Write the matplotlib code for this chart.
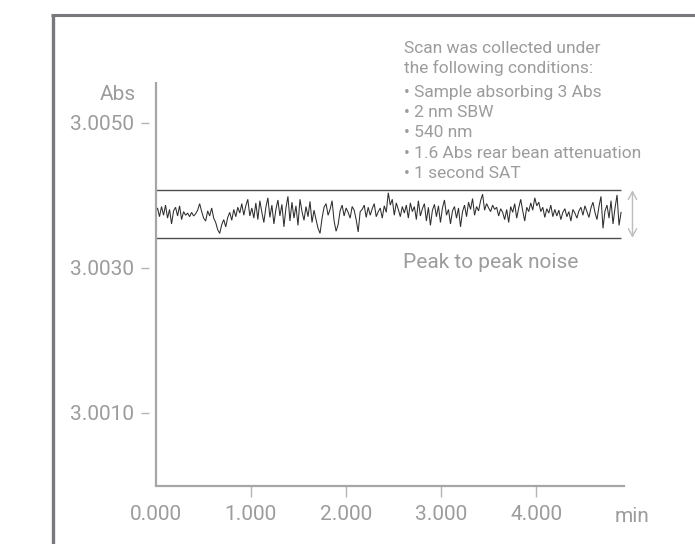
import matplotlib
matplotlib.use("Agg")
import matplotlib.pyplot as plt
from matplotlib.lines import Line2D
import numpy as np

plt.rcParams['font.family'] = ['Roboto', 'DejaVu Sans']

# ---- data -------------------------------------------------------------
x_ticks = [0.0, 1.0, 2.0, 3.0, 4.0]
x_tick_labels = ["0.000", "1.000", "2.000", "3.000", "4.000"]
y_ticks = [3.0010, 3.0030, 3.0050]
y_tick_labels = ["3.0010", "3.0030", "3.0050"]

scan_start_min = 0.0
scan_end_min = 4.89
baseline_abs = 3.003743           # mean absorbance of the scan
noise_upper_abs = 3.004067        # peak-to-peak envelope, top
noise_lower_abs = 3.003413        # peak-to-peak envelope, bottom

# absorbance deviations, units of 1e-5 Abs
noise_dev_e5 = [
    2, 8, -4, 10, -2, 12, -6, 6, -14, 4, 9, -3, 11, -8, 3, -2, 1, -4, 2, -3, 0, 5, 14, 3, -6,
    -10, 4, -3, 8, -6, -12, -22, -27, -15, -8, -18, -5, 2, -9, 6, -4, 9, 1, 14, -2, 11, 20, -3, 8, -6,
    15, -8, 18, 2, -12, 9, 22, -5, 12, -14, 6, 19, -3, 13, -18, 8, 24, -10, 16, -6, 11, -16, 20, 3, -9,
    10, -4, 17, -12, 5, -8, -20, -27, -6, 9, 14, -2, 6, 18, -10, -24, -15, 4, 12, -3, 8, 2, -6, 10, 5,
    -8, -25, 3, 6, 12, -5, 9, -2, 7, 14, -4, 3, 8, -6, 11, 2, 29, 12, 20, -2, 15, 6, -4, 10, 1,
    12, -6, 15, 3, 10, -8, 18, -3, 7, 14, -10, 9, -16, 5, 13, -4, 11, -12, 8, 19, -2, 6, -14, 4, 10,
    -6, 8, -18, 3, 12, -4, 16, 6, 21, -2, 10, 4, 18, 27, 5, 14, 8, 3, 12, 6, 9, -3, 7, 2, -8,
    6, -12, 10, 2, 14, -6, 8, 20, 4, -10, 9, 3, 15, 5, 22, 11, 16, 3, 9, -5, 7, 1, 12, -4, 6,
    -3, 5, -8, 2, 7, -4, 3, -10, 6, 1, -6, 4, 9, -2, 11, 3, -5, 8, 16, 2, -8, 10, 24, -20, 4,
    12, -6, 18, -14, 8, 26, -16, 2,
]

conditions_intro = ["Scan was collected under", "the following conditions:"]
conditions = [
    "Sample absorbing 3 Abs",
    "2 nm SBW",
    "540 nm",
    "1.6 Abs rear bean attenuation",
    "1 second SAT",
]

# ---- figure -----------------------------------------------------------
W, H = 695, 544
fig = plt.figure(figsize=(W / 100, H / 100), dpi=100)
fig.patch.set_facecolor("white")

def fx(px):
    return px / W

def fy(py):
    return 1 - py / H

ax_left, ax_right, ax_top, ax_bottom = 155.5, 624.0, 82.0, 486.0
ax = fig.add_axes([fx(ax_left), fy(ax_bottom), fx(ax_right - ax_left), (ax_bottom - ax_top) / H])
ax.set_facecolor("none")

axis_gray = "#a6a6a6"
text_gray = "#9c9c9c"

ax.set_xlim(0, 4.921)
ax.set_ylim(2.99999, 3.00556)

times = np.linspace(scan_start_min, scan_end_min, len(noise_dev_e5))
absorbance = baseline_abs + np.array(noise_dev_e5) * 1e-5

ax.plot(times, absorbance, color="#2e2e2e", lw=0.75, solid_joinstyle="miter")
ax.hlines([noise_upper_abs, noise_lower_abs], scan_start_min, scan_end_min,
          color="#4d4d4d", lw=1.0)

# double arrow for peak-to-peak
ax.annotate("", xy=(5.01, noise_upper_abs), xytext=(5.01, noise_lower_abs),
            xycoords="data", annotation_clip=False,
            arrowprops=dict(arrowstyle="<->,head_length=0.55,head_width=0.3",
                            color="#bdbdbd", lw=1.0, shrinkA=0, shrinkB=0))
fig.text(fx(403), fy(267.5), "Peak to peak noise", color=text_gray, fontsize=15,
         ha="left", va="baseline")

# spines / ticks
for s in ["top", "right"]:
    ax.spines[s].set_visible(False)
ax.spines["bottom"].set_color(axis_gray)
ax.spines["bottom"].set_linewidth(1.6)
ax.spines["left"].set_position(("outward", 5))
ax.spines["left"].set_visible(False)
ax.add_line(Line2D([0, 0], [0, 1], transform=ax.transAxes, color=axis_gray,
                   lw=1.6, clip_on=False, solid_capstyle="butt"))

ax.set_xticks(x_ticks)
ax.set_xticklabels(x_tick_labels)
ax.set_yticks(y_ticks)
ax.set_yticklabels(y_tick_labels)
ax.tick_params(axis="x", direction="out", length=8, width=1.0, color="#b5b5b5",
               pad=6, labelsize=15, labelcolor=text_gray)
ax.tick_params(axis="y", direction="out", length=5.5, width=1.0, color="#b5b5b5",
               pad=5, labelsize=15, labelcolor=text_gray)
ax.xaxis.get_major_ticks()[0].tick1line.set_visible(False)

fig.text(fx(632), fy(521.5), "min", color=text_gray, fontsize=15, ha="center", va="baseline")
fig.text(fx(136), fy(100), "Abs", color=text_gray, fontsize=15, ha="right", va="baseline")

# conditions block
baselines = [53, 73, 96.5, 117, 137.5, 158, 178.5]
lines = conditions_intro + ["\u2022 " + c for c in conditions]
for txt, b in zip(lines, baselines):
    fig.text(fx(403.5), fy(b), txt, color=text_gray, fontsize=12.5, ha="left", va="baseline")

# outer frame (top and left edges)
frame_color = "#77797d"
fig.add_artist(Line2D([fx(51), 1.0], [fy(15.3), fy(15.3)], transform=fig.transFigure,
                      color=frame_color, lw=2.2, solid_capstyle="butt"))
fig.add_artist(Line2D([fx(52.7), fx(52.7)], [fy(14), 0.0], transform=fig.transFigure,
                      color=frame_color, lw=2.4, solid_capstyle="butt"))

fig.savefig("out.png", dpi=100, facecolor="white")
